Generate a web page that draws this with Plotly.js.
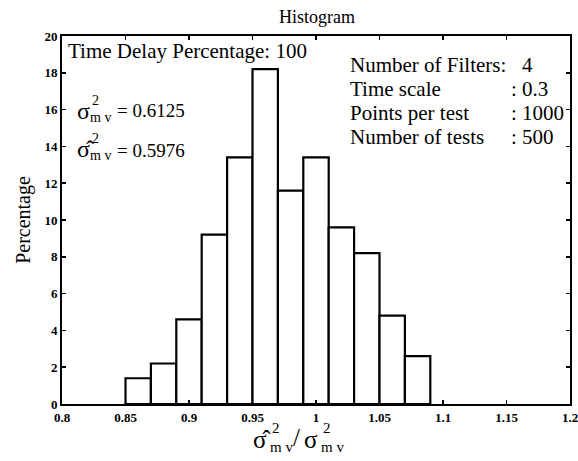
<!DOCTYPE html>
<html>
<head>
<meta charset="utf-8">
<script src="https://cdn.plot.ly/plotly-3.0.1.min.js"></script>
<style>html,body{margin:0;padding:0;background:#fff;}#chart{width:578px;height:461px;}</style>
</head>
<body>
<div id="chart"></div>
<script>
// Histogram bin left edges and bin width
var binStarts = [0.85, 0.87, 0.89, 0.91, 0.93, 0.95, 0.97, 0.99, 1.01, 1.03, 1.05, 1.07];
var binWidth = 0.02;
// Percentage per bin
var percentages = [1.4, 2.2, 4.6, 9.2, 13.4, 18.2, 11.6, 13.4, 9.6, 8.2, 4.8, 2.6];
// Tick values
var xTicks = [0.8, 0.85, 0.9, 0.95, 1, 1.05, 1.1, 1.15, 1.2];
var xTickLabels = ["0.8", "0.85", "0.9", "0.95", "1", "1.05", "1.1", "1.15", "1.2"];
var yTicks = [0, 2, 4, 6, 8, 10, 12, 14, 16, 18, 20];
// Info text
var infoLabels = ["Number of Filters:", "Time scale", "Points per test", "Number of tests"];
var infoColons = ["", ":", ":", ":"];
var infoValues = ["4", "0.3", "1000", "500"];

var centers = binStarts.map(function(s){ return s + binWidth/2; });

var FONT = "Liberation Serif, Times New Roman, serif";

var trace = {
  type: 'bar',
  x: centers,
  y: percentages,
  width: binStarts.map(function(){ return binWidth; }),
  marker: {color: '#ffffff', line: {color: '#000000', width: 2.2}},
  hoverinfo: 'skip'
};

var annotations = [];
var L = 62, R = 570, T = 36, B = 404;
function px(xpix){ return (xpix - L) / (R - L); }
function py(ypix){ return (B - ypix) / (B - T); }
function txt(xpix, ypix, text, size, xanchor) {
  annotations.push({x: px(xpix), y: py(ypix), xref: 'paper', yref: 'paper', text: text, showarrow: false,
    xanchor: xanchor || 'left', yanchor: 'middle', borderpad: 0,
    font: {family: FONT, size: size, color: '#000'}});
}

txt(67, 51, "Time Delay Percentage: 100", 21);

// sigma_mv^2 = 0.6125
txt(76, 111, "σ", 24);
txt(91, 100, "2", 14);
txt(89, 117, "m v", 14);
txt(116, 111, "= 0.6125", 19);
// sigma hat
txt(76, 149, "σ̂", 24);
txt(91, 138, "2", 14);
txt(89, 155, "m v", 14);
txt(116, 150, "= 0.5976", 19);

// info block
var infoY = [65, 89, 113, 137];
for (var i = 0; i < infoLabels.length; i++) {
  txt(349, infoY[i], infoLabels[i], 21);
  if (infoColons[i]) txt(510, infoY[i], infoColons[i], 21);
  txt(521, infoY[i], infoValues[i], 21);
}

// x-axis title: sigma-hat^2_mv / sigma^2_mv
txt(252, 439, "σ̂", 25);
txt(271, 428, "2", 15);
txt(269, 447, "m v", 15);
txt(292, 437, "/", 25);
txt(303, 439, "σ", 25);
txt(322, 428, "2", 15);
txt(320, 447, "m v", 15);

var layout = {
  width: 578, height: 461,
  margin: {l: L, r: 578 - R, t: T, b: 461 - B, pad: 0},
  paper_bgcolor: '#fff', plot_bgcolor: '#fff',
  showlegend: false,
  bargap: 0,
  title: {text: 'Histogram', font: {family: FONT, size: 18, color: '#000'},
          x: 317/578, xanchor: 'center', y: 1 - 17/461, yanchor: 'middle', yref: 'container'},
  xaxis: {range: [0.8, 1.2], tickvals: xTicks, ticktext: xTickLabels, ticks: 'inside', ticklen: 4,
          tickwidth: 1.5, tickcolor: '#000', showline: true, linewidth: 2, linecolor: '#000', mirror: 'allticks',
          showgrid: false, zeroline: false, fixedrange: true, ticklabeloverflow: 'allow',
          tickfont: {family: FONT, size: 13, color: '#000', weight: 'bold'}},
  yaxis: {range: [0, 20], tickvals: yTicks, ticks: 'inside', ticklen: 4, tickwidth: 1.5, tickcolor: '#000',
          showline: true, linewidth: 2, linecolor: '#000', mirror: 'allticks', showgrid: false, zeroline: false,
          fixedrange: true, ticklabeloverflow: 'allow', tickfont: {family: FONT, size: 13, color: '#000', weight: 'bold'},
          title: {text: 'Percentage', font: {family: FONT, size: 20, color: '#000'}, standoff: 8}},
  annotations: annotations
};

Plotly.newPlot('chart', [trace], layout, {staticPlot: true, displayModeBar: false});
</script>
</body>
</html>
